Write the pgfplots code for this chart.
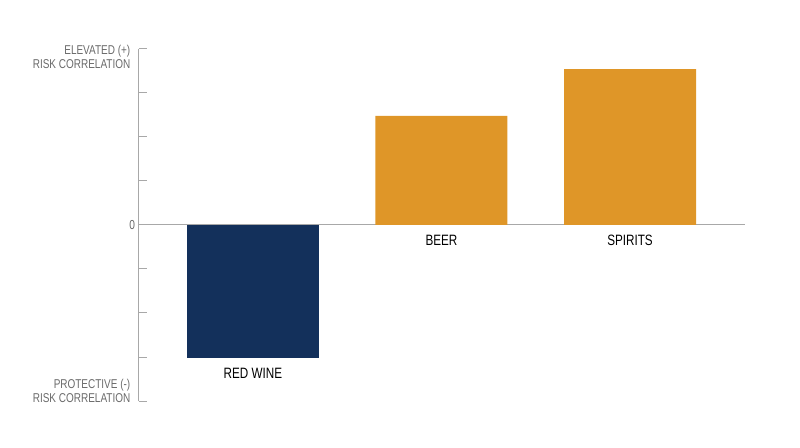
\documentclass[border=0pt]{standalone}
\usepackage{fontspec}
\setmainfont{Liberation Sans}[FakeStretch=0.78]
\usepackage{pgfplots}
\pgfplotsset{compat=1.18}
\definecolor{navybar}{HTML}{13305B}
\definecolor{orangebar}{HTML}{DF9628}
\definecolor{axisgrey}{HTML}{A8A8A8}
\definecolor{labelgrey}{HTML}{6A6A6A}
\begin{document}
\begin{tikzpicture}[x=1pt,y=1pt]
\path[use as bounding box] (0,0) rectangle (800,447);
\begin{axis}[
    at={(138.5pt,46pt)}, anchor=south west,
    scale only axis,
    width=606.5pt, height=352.5pt,
    xmin=0.393, xmax=3.61,
    ymin=-4, ymax=4,
    axis y line=left, axis x line=middle,
    axis line style={-, axisgrey, line width=0.8pt},
    ytick={-4,-3,...,4},
    yticklabels={,,,,0,,,,},
    xtick=\empty,
    tick align=inside,
    major tick length=8pt,
    tick style={axisgrey, line width=0.8pt},
    yticklabel style={font=\fontsize{13}{15}\selectfont, text=labelgrey},
    /pgf/number format/assume math mode=true,
    ybar, bar width=132pt, bar shift=0pt,
    clip=false,
]
\addplot[draw=none, fill=navybar] coordinates {(1,-3.02)};
\addplot[draw=none, fill=orangebar] coordinates {(2,2.47) (3,3.53)};
\node[anchor=north, font=\fontsize{15}{17}\selectfont, text=black] at (axis cs:1,-3.02) [yshift=-7pt] {RED WINE};
\node[anchor=north, font=\fontsize{15}{17}\selectfont, text=black] at (axis cs:2,0) [yshift=-7pt] {BEER};
\node[anchor=north, font=\fontsize{15}{17}\selectfont, text=black] at (axis cs:3,0) [yshift=-7pt] {SPIRITS};
\node[anchor=north east, align=right, inner sep=0pt, font=\fontsize{12.8}{14}\selectfont, text=labelgrey] at (rel axis cs:0,1) [xshift=-8pt, yshift=3pt] {ELEVATED (+)\\RISK CORRELATION};
\node[anchor=south east, align=right, inner sep=0pt, font=\fontsize{12.8}{14}\selectfont, text=labelgrey] at (rel axis cs:0,0) [xshift=-8pt, yshift=-2pt] {PROTECTIVE (-)\\RISK CORRELATION};
\end{axis}
\end{tikzpicture}
\end{document}
